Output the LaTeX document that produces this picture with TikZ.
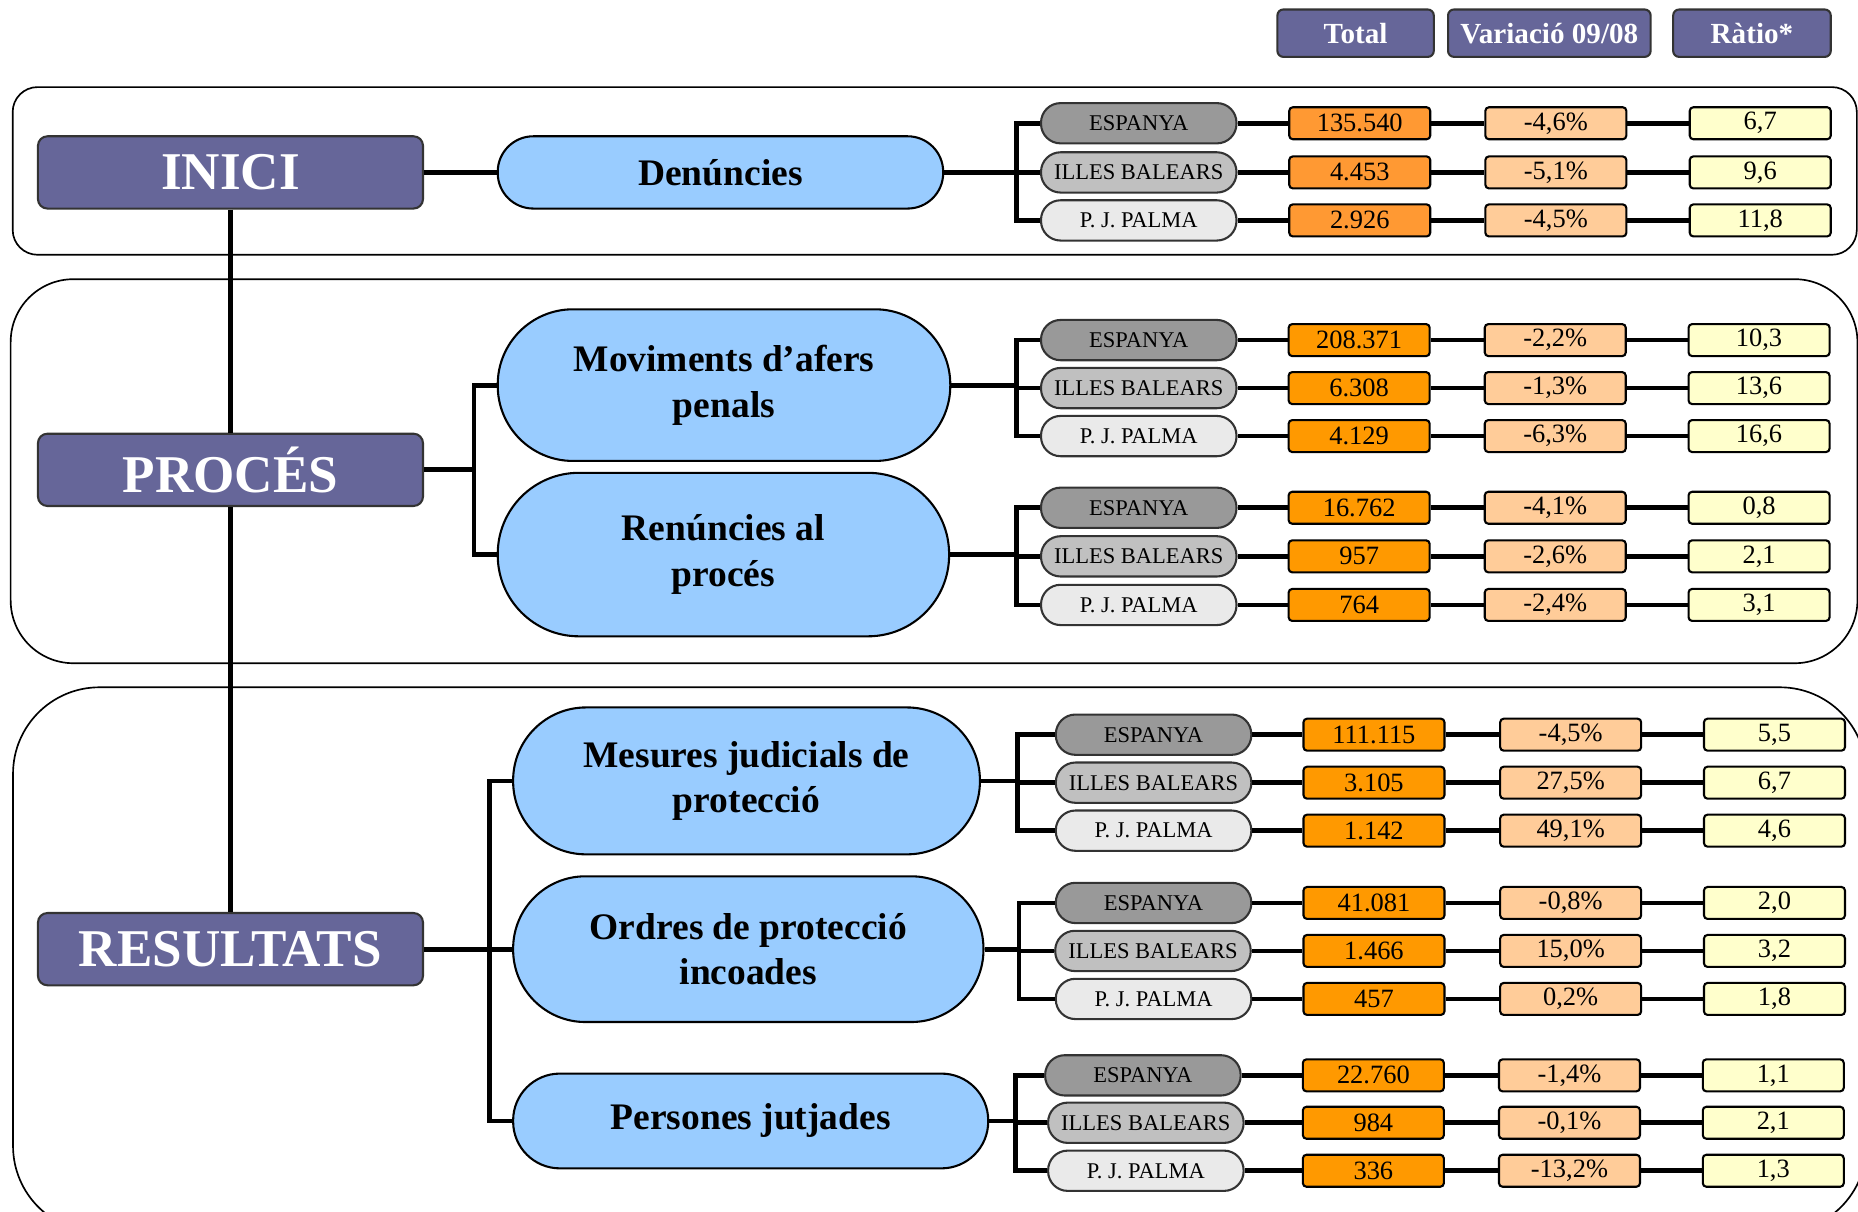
\documentclass[tikz,border=0pt]{standalone}
\usepackage{fontspec}
\setmainfont{Liberation Serif}

\definecolor{stagepurple}{HTML}{666699}
\definecolor{topicblue}{HTML}{99CCFF}
\definecolor{espgray}{HTML}{999999}
\definecolor{illgray}{HTML}{C0C0C0}
\definecolor{palgray}{HTML}{EAEAEA}
\definecolor{totorange}{HTML}{FF9900}
\definecolor{totorangeA}{HTML}{FF9933}
\definecolor{varpeach}{HTML}{FFCC99}
\definecolor{ratyellow}{HTML}{FFFFCC}

\begin{document}
\begin{tikzpicture}[x=0.02cm, y=-0.02cm,
  frame/.style={draw=black, line width=0.8pt},
  link/.style={draw=black, line width=2.3pt},
  hdrbox/.style={draw=black!80, line width=1pt, fill=stagepurple, rounded corners=0.1cm,
    minimum height=0.8cm, inner sep=0pt, text=white, font=\bfseries\fontsize{14}{16}\selectfont},
  stagebox/.style={draw=black!80, line width=1pt, fill=stagepurple, rounded corners=0.16cm,
    minimum width=6.5cm, minimum height=1.22cm, inner sep=0pt, text=white,
    font=\bfseries\fontsize{25.5}{30}\selectfont},
  topicbox/.style={draw=black, line width=1pt, fill=topicblue, align=center, inner sep=0pt,
    font=\bfseries\fontsize{18}{22}\selectfont},
  placebox/.style={draw=black!80, line width=1pt, rounded corners=0.33cm, minimum width=3.3cm,
    minimum height=0.68cm, inner sep=0pt, font=\fontsize{10.8}{12}\selectfont},
  numbox/.style={draw=black, line width=1pt, rounded corners=0.06cm, minimum width=2.38cm,
    minimum height=0.54cm, inner sep=0pt, font=\fontsize{12.7}{14}\selectfont},
  totbox/.style={numbox, fill=totorange},
  varbox/.style={numbox, fill=varpeach},
  ratbox/.style={numbox, fill=ratyellow}]
  \useasboundingbox (0,0) rectangle (1568,1022);

  % group frames
  \draw[frame, rounded corners=0.42cm] (10.7,73.5) rectangle (1567,215);
  \draw[frame, rounded corners=1.06cm] (9,235.6) rectangle (1567.5,559.7);
  \draw[frame, rounded corners=1.46cm] (11,580) rectangle (1575,1040);

  % column headers
  \node[hdrbox, minimum width=2.64cm] (hdrtot) at (1144,28) {Total};
  \node[hdrbox, minimum width=3.42cm] (hdrvar) at (1307.5,28) {Variació 09/08};
  \node[hdrbox, minimum width=2.66cm] (hdrrat) at (1478.5,28) {Ràtio*};

  % stages
  \node[stagebox] (inici) at (194.5,145.5) {INICI};
  \node[stagebox] (proces) at (194.5,396.5) {PROCÉS};
  \node[stagebox] (resultats) at (194.5,801) {RESULTATS};
  \draw[link] (inici.south) -- (proces.north);
  \draw[link] (proces.south) -- (resultats.north);

  % topics
  \node[topicbox, minimum width=7.52cm, minimum height=1.22cm, rounded corners=0.6cm] (den) at (608,145.5) {Denúncies};
  \node[topicbox, minimum width=7.64cm, minimum height=2.56cm, rounded corners=1.27cm] (mov) at (611,325) {Moviments d’afers\\penals};
  \node[topicbox, minimum width=7.62cm, minimum height=2.76cm, rounded corners=1.37cm] (ren) at (610.5,468) {Renúncies al\\procés};
  \node[topicbox, minimum width=7.88cm, minimum height=2.48cm, rounded corners=1.23cm] (mes) at (630,659) {Mesures judicials de\\protecció};
  \node[topicbox, minimum width=7.94cm, minimum height=2.46cm, rounded corners=1.22cm] (ord) at (631.5,801) {Ordres de protecció\\incoades};
  \node[topicbox, minimum width=8.02cm, minimum height=1.6cm, rounded corners=0.79cm] (per) at (633.5,946) {Persones jutjades};

  \coordinate (c2) at (400,396.5);
  \coordinate (c3) at (413,801);
  \draw[link] (inici.east) -- (den.west);
  \draw[link] (proces.east) -- (c2);
  \draw[link] (mov.west) -| (c2) |- (ren.west);
  \draw[link] (resultats.east) -- (c3);
  \draw[link] (mes.west) -| (c3) |- (per.west);
  \draw[link] (ord.west) -- (c3);

  % Denuncies
  \node[placebox, fill=espgray] (pl1) at (961,104) {ESPANYA};
  \node[totbox, fill=totorangeA] (tt1) at (1147.5,104) {135.540};
  \node[varbox] (vr1) at (1313,104) {-4,6\%};
  \node[ratbox] (rt1) at (1485.5,104) {6,7};
  \node[placebox, fill=illgray] (pl2) at (961,145.5) {ILLES BALEARS};
  \node[totbox, fill=totorangeA] (tt2) at (1147.5,145.5) {4.453};
  \node[varbox] (vr2) at (1313,145.5) {-5,1\%};
  \node[ratbox] (rt2) at (1485.5,145.5) {9,6};
  \node[placebox, fill=palgray] (pl3) at (961,186) {P. J. PALMA};
  \node[totbox, fill=totorangeA] (tt3) at (1147.5,186) {2.926};
  \node[varbox] (vr3) at (1313,186) {-4,5\%};
  \node[ratbox] (rt3) at (1485.5,186) {11,8};

  % Moviments
  \node[placebox, fill=espgray] (pl4) at (961,287) {ESPANYA};
  \node[totbox] (tt4) at (1147,287) {208.371};
  \node[varbox] (vr4) at (1312.5,287) {-2,2\%};
  \node[ratbox] (rt4) at (1484.5,287) {10,3};
  \node[placebox, fill=illgray] (pl5) at (961,327.5) {ILLES BALEARS};
  \node[totbox] (tt5) at (1147,327.5) {6.308};
  \node[varbox] (vr5) at (1312.5,327.5) {-1,3\%};
  \node[ratbox] (rt5) at (1484.5,327.5) {13,6};
  \node[placebox, fill=palgray] (pl6) at (961,368) {P. J. PALMA};
  \node[totbox] (tt6) at (1147,368) {4.129};
  \node[varbox] (vr6) at (1312.5,368) {-6,3\%};
  \node[ratbox] (rt6) at (1484.5,368) {16,6};

  % Renuncies
  \node[placebox, fill=espgray] (pl7) at (961,428.5) {ESPANYA};
  \node[totbox] (tt7) at (1147,428.5) {16.762};
  \node[varbox] (vr7) at (1312.5,428.5) {-4,1\%};
  \node[ratbox] (rt7) at (1484.5,428.5) {0,8};
  \node[placebox, fill=illgray] (pl8) at (961,469.5) {ILLES BALEARS};
  \node[totbox] (tt8) at (1147,469.5) {957};
  \node[varbox] (vr8) at (1312.5,469.5) {-2,6\%};
  \node[ratbox] (rt8) at (1484.5,469.5) {2,1};
  \node[placebox, fill=palgray] (pl9) at (961,510.5) {P. J. PALMA};
  \node[totbox] (tt9) at (1147,510.5) {764};
  \node[varbox] (vr9) at (1312.5,510.5) {-2,4\%};
  \node[ratbox] (rt9) at (1484.5,510.5) {3,1};

  % Mesures
  \node[placebox, fill=espgray] (pl10) at (973.5,620) {ESPANYA};
  \node[totbox] (tt10) at (1159.5,620) {111.115};
  \node[varbox] (vr10) at (1325.5,620) {-4,5\%};
  \node[ratbox] (rt10) at (1497.5,620) {5,5};
  \node[placebox, fill=illgray] (pl11) at (973.5,660.5) {ILLES BALEARS};
  \node[totbox] (tt11) at (1159.5,660.5) {3.105};
  \node[varbox] (vr11) at (1325.5,660.5) {27,5\%};
  \node[ratbox] (rt11) at (1497.5,660.5) {6,7};
  \node[placebox, fill=palgray] (pl12) at (973.5,701) {P. J. PALMA};
  \node[totbox] (tt12) at (1159.5,701) {1.142};
  \node[varbox] (vr12) at (1325.5,701) {49,1\%};
  \node[ratbox] (rt12) at (1497.5,701) {4,6};

  % Ordres
  \node[placebox, fill=espgray] (pl13) at (973.5,762) {ESPANYA};
  \node[totbox] (tt13) at (1159.5,762) {41.081};
  \node[varbox] (vr13) at (1325.5,762) {-0,8\%};
  \node[ratbox] (rt13) at (1497.5,762) {2,0};
  \node[placebox, fill=illgray] (pl14) at (973,802.5) {ILLES BALEARS};
  \node[totbox] (tt14) at (1159.5,802.5) {1.466};
  \node[varbox] (vr14) at (1325.5,802.5) {15,0\%};
  \node[ratbox] (rt14) at (1497.5,802.5) {3,2};
  \node[placebox, fill=palgray] (pl15) at (973.5,843) {P. J. PALMA};
  \node[totbox] (tt15) at (1159.5,843) {457};
  \node[varbox] (vr15) at (1325.5,843) {0,2\%};
  \node[ratbox] (rt15) at (1497.5,843) {1,8};

  % Persones
  \node[placebox, fill=espgray] (pl16) at (964.5,907.5) {ESPANYA};
  \node[totbox] (tt16) at (1159,907.5) {22.760};
  \node[varbox] (vr16) at (1324.5,907.5) {-1,4\%};
  \node[ratbox] (rt16) at (1496.5,907.5) {1,1};
  \node[placebox, fill=illgray] (pl17) at (967,947.5) {ILLES BALEARS};
  \node[totbox] (tt17) at (1159,947.5) {984};
  \node[varbox] (vr17) at (1324.5,947.5) {-0,1\%};
  \node[ratbox] (rt17) at (1496.5,947.5) {2,1};
  \node[placebox, fill=palgray] (pl18) at (967,988) {P. J. PALMA};
  \node[totbox] (tt18) at (1159,988) {336};
  \node[varbox] (vr18) at (1324.5,988) {-13,2\%};
  \node[ratbox] (rt18) at (1496.5,988) {1,3};

  % brackets
  \coordinate (b1) at (858,145.5);
  \coordinate (b2) at (858,325);
  \coordinate (b3) at (858,468);
  \coordinate (b4) at (859,659);
  \coordinate (b5) at (860,801);
  \coordinate (b6) at (857,946);
  \draw[link] (den.east) -- (b1);
  \draw[link] (pl1.west) -| (b1) |- (pl3.west);
  \draw[link] (pl2.west) -- (pl2.west -| b1);
  \draw[link] (mov.east) -- (b2);
  \draw[link] (pl4.west) -| (b2) |- (pl6.west);
  \draw[link] (pl5.west) -- (pl5.west -| b2);
  \draw[link] (ren.east) -- (b3);
  \draw[link] (pl7.west) -| (b3) |- (pl9.west);
  \draw[link] (pl8.west) -- (pl8.west -| b3);
  \draw[link] (mes.east) -- (b4);
  \draw[link] (pl10.west) -| (b4) |- (pl12.west);
  \draw[link] (pl11.west) -- (pl11.west -| b4);
  \draw[link] (ord.east) -- (b5);
  \draw[link] (pl13.west) -| (b5) |- (pl15.west);
  \draw[link] (pl14.west) -- (pl14.west -| b5);
  \draw[link] (per.east) -- (b6);
  \draw[link] (pl16.west) -| (b6) |- (pl18.west);
  \draw[link] (pl17.west) -- (pl17.west -| b6);

  % rows
  \draw[link] (pl1.east) -- (tt1.west) (tt1.east) -- (vr1.west) (vr1.east) -- (rt1.west);
  \draw[link] (pl2.east) -- (tt2.west) (tt2.east) -- (vr2.west) (vr2.east) -- (rt2.west);
  \draw[link] (pl3.east) -- (tt3.west) (tt3.east) -- (vr3.west) (vr3.east) -- (rt3.west);
  \draw[link] (pl4.east) -- (tt4.west) (tt4.east) -- (vr4.west) (vr4.east) -- (rt4.west);
  \draw[link] (pl5.east) -- (tt5.west) (tt5.east) -- (vr5.west) (vr5.east) -- (rt5.west);
  \draw[link] (pl6.east) -- (tt6.west) (tt6.east) -- (vr6.west) (vr6.east) -- (rt6.west);
  \draw[link] (pl7.east) -- (tt7.west) (tt7.east) -- (vr7.west) (vr7.east) -- (rt7.west);
  \draw[link] (pl8.east) -- (tt8.west) (tt8.east) -- (vr8.west) (vr8.east) -- (rt8.west);
  \draw[link] (pl9.east) -- (tt9.west) (tt9.east) -- (vr9.west) (vr9.east) -- (rt9.west);
  \draw[link] (pl10.east) -- (tt10.west) (tt10.east) -- (vr10.west) (vr10.east) -- (rt10.west);
  \draw[link] (pl11.east) -- (tt11.west) (tt11.east) -- (vr11.west) (vr11.east) -- (rt11.west);
  \draw[link] (pl12.east) -- (tt12.west) (tt12.east) -- (vr12.west) (vr12.east) -- (rt12.west);
  \draw[link] (pl13.east) -- (tt13.west) (tt13.east) -- (vr13.west) (vr13.east) -- (rt13.west);
  \draw[link] (pl14.east) -- (tt14.west) (tt14.east) -- (vr14.west) (vr14.east) -- (rt14.west);
  \draw[link] (pl15.east) -- (tt15.west) (tt15.east) -- (vr15.west) (vr15.east) -- (rt15.west);
  \draw[link] (pl16.east) -- (tt16.west) (tt16.east) -- (vr16.west) (vr16.east) -- (rt16.west);
  \draw[link] (pl17.east) -- (tt17.west) (tt17.east) -- (vr17.west) (vr17.east) -- (rt17.west);
  \draw[link] (pl18.east) -- (tt18.west) (tt18.east) -- (vr18.west) (vr18.east) -- (rt18.west);
\end{tikzpicture}
\end{document}
